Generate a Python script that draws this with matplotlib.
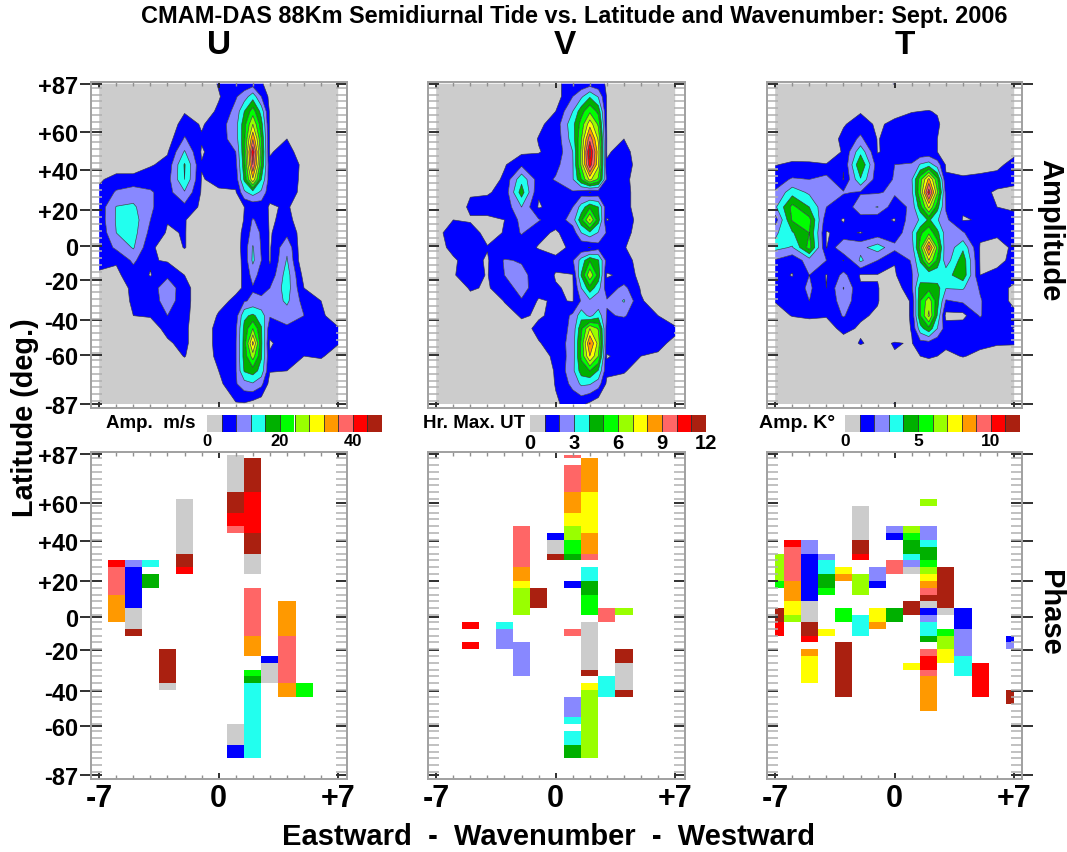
import numpy as np
import matplotlib
matplotlib.use("Agg")
import matplotlib.pyplot as plt

plt.rcParams['font.family'] = ['Liberation Sans', 'DejaVu Sans']
plt.rcParams['font.weight'] = 'bold'

W, H = 1067, 853
TITLE = "CMAM-DAS 88Km Semidiurnal Tide vs. Latitude and Wavenumber: Sept. 2006"
WAVENUMBERS = [-7, -6, -5, -4, -3, -2, -1, 0, 1, 2, 3, 4, 5, 6, 7]
WAVENUMBERS_FINE = [-7, -6, -5, -4, -3, -2, -1, 0, 1, 1.5, 2, 2.5, 3, 4, 5, 6, 7]
LATITUDES = [87, 80, 72, 65, 57, 50, 43, 35, 28, 20, 13, 6, -2, -9, -17, -24, -31, -39, -46, -54, -61, -69, -76, -87]
LAT_TICK_POS = [87, 60.7, 40, 18.2, -1.2, -19.4, -41.5, -60.3, -87]
LAT_TICK_LABELS = ['+87', '+60', '+40', '+20', '0', '-20', '-40', '-60', '-87']
LEVEL_COLORS = ['#CCCCCC', '#0000FF', '#8888FF', '#22FFEE', '#00B000', '#00FF00',
                '#99FF00', '#FFFF00', '#FF9900', '#FF6666', '#FF0000', '#AA2010']

# amplitude, in colour-bar steps (U steps are 4 m/s), rows follow LATITUDES
U_AMP = [
 [.2,.2,.2,.2,.2,.2,.2,1.1,1.3,1.5,.6,.2,.2,.2,.2],
 [.2,.2,.2,.2,.2,.2,.3,.9,1.9,3.6,.7,.2,.2,.2,.2],
 [.2,.2,.2,.2,.2,.9,.4,1.2,2.3,5.5,.8,.2,.2,.2,.2],
 [.2,.2,.2,.2,.2,1.5,.9,1.5,2.6,7,.85,.5,.2,.2,.2],
 [.2,.2,.2,.2,.5,2.1,1.1,1.5,2.5,8.9,.9,1.0,.3,.2,.2],
 [.2,.2,.2,.2,.9,3.1,.9,1.5,2.0,10.8,.9,1.4,.4,.2,.2],
 [.2,.2,.2,.9,1.3,4.1,1.05,1.5,1.7,10,1.2,1.5,.8,.2,.2],
 [.8,1.5,1.5,1.6,1.6,4.0,.95,1.2,1.4,7.8,1.4,1.4,.8,.2,.2],
 [1.3,2.1,2.4,2.1,1.6,2.9,.9,.9,.9,3.5,1.3,1.3,.8,.2,.2],
 [1.4,3.05,3.2,2.1,1.6,1.7,.8,.3,.5,1.2,.9,1.1,.5,.2,.2],
 [1.4,3.1,3.5,2.0,1.05,1.05,.5,.3,.5,2.1,.9,1.2,.6,.2,.2],
 [1.2,3.0,3.4,1.7,.9,1.05,.4,.3,.5,2.4,.9,1.7,.5,.2,.2],
 [1.2,2.2,3.1,1.2,.5,1.05,.4,.3,.5,3.1,.9,2.8,0,.2,.2],
 [1.2,1.1,2.2,1.1,.9,.4,.3,.3,.5,3.2,.9,3.1,0,.2,.2],
 [.9,.8,1.5,.95,1.8,1.0,.3,.3,.6,2.4,1.3,3.5,.6,.2,.2],
 [.4,.3,1.3,1.5,2.6,1.4,.3,.3,.8,1.9,2.0,3.5,1.0,.5,.2],
 [.3,.3,1.2,1.4,2.5,1.4,.3,.7,1.2,2.2,2.3,3.2,1.6,1.0,.4],
 [.2,.2,1.0,1.05,2.0,1.3,.3,1.1,1.5,4.2,2.1,2.5,2.0,1.1,.7],
 [.2,.2,.5,.7,1.2,1.2,.3,1.4,1.8,6,1.3,1.8,1.4,1.4,1.05],
 [.2,.2,.2,.2,.9,1.2,.3,1.4,1.9,8.3,.9,1.4,1.4,1.3,1.05],
 [.2,.2,.2,.2,.5,1.05,.3,1.3,1.9,6.5,1.1,1.3,1.0,1.1,.6],
 [.2,.2,.2,.2,.2,.4,.3,1.0,1.9,4.5,1.05,1.0,.6,.5,.2],
 [.2,.2,.2,.2,.2,.2,.2,.7,1.9,2.9,.6,.5,.2,.2,.2],
 [.2,.2,.2,.2,.2,.2,.2,.3,.9,.6,.2,.2,.2,.2,.2],
]
U_AMP_W15 = [1.4,2.5,4.0,4.6,4.7,4.8,4.6,4.2,2.8,1.0,1.05,1.3,1.4,1.3,1.2,1.1,1.9,3.8,4.3,4.4,4.4,4.1,2.6,.9]
U_AMP_W25 = [1.1,2.0,3.6,4.4,5.0,5.3,5.0,4.0,2.8,1.4,1.6,1.9,1.9,2.0,1.6,1.7,2.2,3.5,4.1,4.2,4.1,3.6,2.3,.3]
V_AMP = [
 [.3,.3,.3,.3,.3,.3,.3,.9,1.2,1.5,.9,.2,.2,.2,.2],
 [.3,.3,.3,.3,.3,.3,.3,.5,2.0,3.9,.9,.2,.2,.2,.2],
 [.3,.3,.3,.3,.3,.3,.4,1.0,3.0,5.8,.9,.2,.2,.2,.2],
 [.3,.3,.3,.3,.3,.3,.8,1.4,3.7,7.6,.9,.3,.2,.2,.2],
 [.3,.3,.3,.3,.3,.4,1.05,1.3,3.5,9.7,.95,1.0,.3,.2,.2],
 [.3,.3,.3,.3,.4,.8,.95,1.3,3.0,11.4,.9,1.3,.5,.2,.2],
 [.3,.3,.3,.3,.9,1.8,1.4,1.7,2.9,10.7,1.1,1.3,.7,.2,.2],
 [.3,.3,.3,.4,1.2,3.7,1.5,2.1,2.9,7.3,1.7,1.2,.6,.2,.2],
 [.3,.3,.9,.9,1.3,4.5,1.1,1.3,1.9,.95,1.3,1.2,.7,.2,.2],
 [.3,.3,1.2,1.4,1.3,3.0,.9,1.4,2.0,4.8,1.3,1.2,.7,.2,.2],
 [.3,1.0,.9,.8,1.0,2.3,2.1,1.3,2.5,7.1,.95,1.4,.7,.2,.2],
 [.8,1.3,1.4,.7,1.05,2.1,1.2,.9,1.4,3.8,1.9,1.3,.6,.2,.2],
 [.7,1.2,1.4,1.05,1.05,1.3,.95,.7,1.2,.95,1.3,1.05,.6,.2,.2],
 [.3,.9,1.3,.9,2.1,1.9,1.4,1.2,1.9,4.9,1.6,1.3,.7,.2,.2],
 [.3,.95,1.3,.95,2.0,2.3,1.5,.95,.95,6.8,.9,1.2,.9,.2,.2],
 [.3,.4,1.1,.9,1.5,2.4,1.4,1.05,.9,4.6,1.4,2.3,.9,.2,.2],
 [.3,.3,.7,.3,1.05,1.9,.9,1.1,.95,2.8,2.1,3.1,1.1,.5,.2],
 [.3,.3,.3,.3,.6,1.1,.9,1.2,2.2,2.7,1.9,2.1,1.4,1.0,.6],
 [.3,.3,.3,.3,.3,.7,1.2,1.3,2.3,7,1.5,1.3,1.3,1.1,1.1],
 [.3,.3,.3,.3,.3,.3,.95,1.3,2.5,9.1,1.3,1.25,1.3,1.1,.9],
 [.3,.3,.3,.3,.3,.3,.6,1.2,2.5,8,.95,1.2,1.0,.95,.2],
 [.3,.3,.3,.3,.3,.3,.3,1.1,2.7,5,1.2,1.1,.5,.3,.2],
 [.3,.3,.3,.3,.3,.3,.3,1.05,2.3,3.1,.8,.6,.2,.2,.2],
 [.3,.3,.3,.3,.3,.3,.3,.9,1.3,.8,.3,.2,.2,.2,.2],
]
V_AMP_W15 = [1.3,2.8,4.6,5.4,5.9,6.2,6.2,5.0,1.5,3.4,4.7,3.0,1.2,3.4,4.1,3.0,2.1,3.6,4.8,5.2,5.2,4.5,3.2,1.2]
V_AMP_W25 = [1.3,2.9,4.7,5.8,6.8,7.4,7.2,5.8,1.3,4.0,4.4,2.9,1.6,4.1,4.6,3.4,2.2,3.6,5.9,6.6,6.0,3.9,2.5,.3]
T_AMP = [
 [.3,.3,.3,.3,.3,.3,.6,1.05,.3,.3,.3,.3,.3,.3,.3],
 [.3,.3,.3,.3,.3,.3,.3,.3,.3,.3,.3,.3,.3,.3,.3],
 [.3,.3,.3,.3,.3,.9,.3,.6,.95,1.05,.3,.3,.3,.3,.3],
 [.3,.3,.3,.3,.9,1.5,.8,1.3,1.5,1.5,.5,.3,.3,.3,.3],
 [.3,.3,.3,.3,1.3,2.2,.95,1.4,1.5,1.2,.5,.3,.3,.3,.3],
 [.4,.4,.3,.4,1.1,3.7,.95,1.3,1.3,1.2,.7,.5,.5,.5,.8],
 [.95,1.2,1.2,1.05,1.05,5.0,1.4,2.0,2.1,3.5,.9,.7,.7,.8,1.3],
 [1.6,2.1,2.0,2.4,.95,3.9,1.3,2.1,2.9,8.3,1.1,1.1,1.2,1.3,1.2],
 [2.1,3.6,2.8,2.2,2.1,1.9,1.9,2.2,2.7,10.6,1.6,1.2,1.2,.9,.8],
 [2.8,5.3,4.0,2.0,1.3,2.6,3.05,1.3,2.3,7.2,1.9,1.1,1.1,1.0,.9],
 [1.5,5.1,5.3,1.3,.95,1.6,1.2,.95,2.6,4.2,2.2,.95,1.05,1.1,1.2],
 [2.8,3.9,5.0,.95,1.2,.95,1.4,1.3,2.9,5.7,2.5,2.1,1.1,1.05,1.1],
 [3.3,2.9,5.4,.95,3.0,2.7,3.5,2.3,2.5,9.6,2.2,3.8,.95,.9,1.05],
 [1.9,1.3,2.5,2.0,.95,3.2,2.0,1.05,2.1,7,2.4,4.6,.95,.9,1.1],
 [1.3,.95,2.0,.95,2.3,.9,.95,.9,1.9,3.1,3.6,4.7,1.0,1.1,1.2],
 [1.2,1.4,2.2,1.0,3.05,1.1,1.05,.4,1.8,4.6,3.05,3.1,1.9,1.2,.9],
 [1.05,1.05,2.0,1.1,2.6,1.3,1.05,.4,1.1,6.6,1.9,2.2,2.1,1.2,.9],
 [.6,1.05,1.1,1.05,2.1,1.1,.9,.4,1.1,7.2,.7,.7,2.1,1.1,1.1],
 [.3,.3,.7,.7,1.2,.9,.5,.4,1.05,4.7,1.5,1.6,1.3,1.3,2.1],
 [.3,.3,.3,.3,.7,1.05,.8,1.05,.95,1.6,1.2,1.2,1.2,1.1,1.1],
 [.3,.3,.3,.3,.3,.6,.5,.95,.8,1.1,.8,1.05,.8,.5,.3],
 [.3,.3,.3,.3,.3,.3,.3,1.0,.3,.5,.3,.3,.3,.3,.3],
 [.3,.3,.3,.3,.3,.3,.3,.3,.3,.3,.3,.3,.3,.3,.3],
 [.3,.3,.3,.3,.3,.3,.3,1.05,.3,.3,.3,.3,.3,.3,.3],
]
T_AMP_W15 = [.3,.3,1.0,1.5,1.35,1.2,3.1,5.6,5.9,4.6,3.1,4.8,5.4,4.1,3.3,4.5,5.0,5.0,3.6,1.6,1.0,.4,.3,.3]
T_AMP_W25 = [.3,.3,.9,1.2,1.0,1.0,2.5,5.2,6.1,4.4,3.1,4.3,5.7,4.7,3.3,4.4,4.4,3.9,3.0,1.3,1.0,.3,.3,.3]

# phase cells: (wavenumber, first row, last row, colour-bar step)
U_PHASE = [
 (-6,15,16,10),(-6,16,20,9),(-6,20,24,8),
 (-5,15,16,2),(-5,16,22,1),(-5,22,25,0),(-5,25,26,11),
 (-4,15,16,3),(-4,17,19,4),
 (-3,28,33,11),(-3,33,34,0),
 (-2,6,14,0),(-2,14,16,11),(-2,16,17,10),
 (1,-.5,5,0),(1,5,8,11),(1,8,10,10),(1,10,11,9),(1,39,42,0),(1,42,44,1),
 (2,0,5,11),(2,5,11,10),(2,11,14,11),(2,14,17,0),(2,19,26,9),(2,26,29,8),
 (2,31,32,5),(2,32,33,4),(2,33,44,3),
 (3,29,30,1),(3,30,33,0),
 (4,21,26,8),(4,26,33,9),(4,33,35,8),
 (5,33,35,5),
]
V_PHASE = [
 (-5,24,25,10),(-5,27,28,10),
 (-3,24,25,3),(-3,25,28,2),
 (-2,10,16,9),(-2,16,18,8),(-2,18,19,7),(-2,19,23,6),(-2,27,32,2),
 (-1,19,22,11),
 (0,11,12,1),(0,12,14,0),(0,14,15,11),
 (1,-.5,0,9),(1,1,5,9),(1,5,8,8),(1,8,10,7),(1,10,12,6),(1,12,14,5),(1,14,15,4),
 (1,18,19,1),(1,25,26,9),(1,35,38,2),(1,38,39,3),(1,40,42,3),(1,42,44,4),
 (2,0,5,8),(2,5,11,7),(2,11,14,8),(2,14,15,9),(2,16,18,3),(2,18,20,4),(2,20,23,5),
 (2,24,31,0),(2,31,32,11),(2,33,34,7),(2,34,44,6),
 (3,22,24,9),(3,32,35,3),
 (4,22,23,6),(4,28,30,11),(4,30,34,0),(4,34,35,11),
]
T_PHASE = [
 (-7,14,18,6),(-7,18,19,5),(-7,22,24,11),(-7,24,26,10),
 (-6,12,13,10),(-6,13,18,9),(-6,18,21,8),(-6,21,23,7),(-6,23,24,6),
 (-5,12,14,2),(-5,14,21,1),(-5,21,24,0),(-5,24,26,11),(-5,26,27,10),(-5,28,29,8),(-5,29,33,7),
 (-4,14,15,2),(-4,15,17,3),(-4,17,19,4),(-4,19,20,5),(-4,25,26,7),
 (-3,16,17,7),(-3,17,18,8),(-3,22,24,5),(-3,27,35,11),
 (-2,7,12,0),(-2,12,14,11),(-2,14,15,10),(-2,17,20,6),(-2,23,26,3),
 (-1,16,18,2),(-1,18,19,1),(-1,22,24,7),(-1,24,25,8),
 (0,10,11,2),(0,11,12,1),(0,15,17,9),(0,22,24,4),
 (1,10,11,6),(1,11,12,5),(1,12,14,4),(1,14,15,3),(1,15,16,2),(1,16,17,0),(1,21,23,11),(1,30,31,7),
 (2,6,7,6),(2,10,12,2),(2,12,13,3),(2,13,15,4),(2,15,16,5),(2,16,17,6),(2,17,18,7),
 (2,18,19,8),(2,19,20,9),(2,20,21,11),(2,21,22,0),(2,22,23,1),(2,23,24,2),(2,24,26,3),
 (2,26,27,4),(2,28,29,9),(2,29,31,10),(2,31,32,9),(2,32,37,8),
 (3,16,22,11),(3,22,23,0),(3,25,26,5),(3,26,28,6),(3,28,30,7),
 (4,22,25,1),(4,25,29,2),(4,29,32,3),
 (5,30,35,10),
 (7,26,27,1),(7,27,28,2),(7,34,36,11),
]

PANEL_NAMES = ['U', 'V', 'T']
FRAME_X = [(91, 347), (428, 685), (767, 1022)]
PANEL_HEAD_X = [219, 565, 905]
CBAR_X = [(207, 382), (530, 706), (845, 1020)]
CBAR_TITLES = ['Amp.  m/s', 'Hr. Max. UT', 'Amp. K°']
CBAR_TITLE_X = [196, 525, 835]
CBAR_TITLE_SIZE = [13.5, 13.5, 14]
CBAR_TICK_STEPS = [[0, 5, 10], [0, 3, 6, 9, 12], [0, 5, 10]]
CBAR_TICK_LABELS = [['0', '20', '40'], ['0', '3', '6', '9', '12'], ['0', '5', '10']]
CBAR_TICK_SIZE = [12, 14.5, 12.5]
X_TICK_VALUES = [-7, 0, 7]
X_TICK_LABELS = ['-7', '0', '+7']


def rect_axes(fig, x0, x1, y0, y1):
    return fig.add_axes([x0 / W, 1 - y1 / H, (x1 - x0) / W, (y1 - y0) / H])


def row_edge(n):
    return 84.8 - 3.7 * n


def style(ax, col, bottom_labels, y0, y1, lat_top, lat_bot):
    x0, x1 = FRAME_X[col]
    per_unit = 17.07
    ax.set_xlim(-7 - 8.2 / per_unit, 7 + (x1 - x0 - 8.2 - 14 * per_unit) / per_unit)
    scale = (lat_bot - lat_top) / 174.0
    ax.set_ylim(-87 - (y1 - lat_bot) / scale, 87 + (lat_top - y0) / scale)
    for s in ax.spines.values():
        s.set_color('#a0a0a0')
        s.set_linewidth(1.4)
    ax.set_xticks(X_TICK_VALUES)
    ax.set_xticks(WAVENUMBERS, minor=True)
    ax.set_yticks(LAT_TICK_POS)
    ax.set_yticks([row_edge(n) for n in range(47)], minor=True)
    ax.tick_params(axis='y', which='minor', direction='in', left=True, right=True, length=8, width=1.1, color='#b0b0b0')
    ax.tick_params(axis='y', which='major', direction='in', left=True, right=True, length=8, width=1.4, color='#303030', labelleft=False)
    ax.tick_params(axis='x', which='minor', direction='in', top=True, bottom=True, length=3, width=1, color='#909090')
    ax.tick_params(axis='x', which='major', direction='in', top=True, bottom=True, length=4, width=1.3, color='#202020', labelsize=22, pad=3)
    if bottom_labels:
        ax.set_xticklabels(X_TICK_LABELS)
    else:
        ax.set_xticklabels([])
    if col == 0:
        sec = ax.secondary_yaxis('left')
        sec.set_yticks(LAT_TICK_POS)
        sec.set_yticklabels(LAT_TICK_LABELS, fontsize=17)
        sec.tick_params(axis='y', direction='out', length=8, width=1.4, color='#303030', pad=1)
        sec.spines['left'].set_visible(False)
    if col == 2:
        sec = ax.secondary_yaxis('right')
        sec.set_yticks(LAT_TICK_POS)
        sec.set_yticklabels([])
        sec.tick_params(axis='y', direction='out', length=8, width=1.4, color='#303030')
        sec.spines['right'].set_visible(False)


fig = plt.figure(figsize=(W / 100, H / 100), dpi=100, facecolor='white')

amps = [U_AMP, V_AMP, T_AMP]
fine_w15 = [U_AMP_W15, V_AMP_W15, T_AMP_W15]
fine_w25 = [U_AMP_W25, V_AMP_W25, T_AMP_W25]
phases = [U_PHASE, V_PHASE, T_PHASE]
levels = list(range(13))
for col in range(3):
    x0, x1 = FRAME_X[col]
    ax = rect_axes(fig, x0, x1, 83, 409)
    base = np.array(amps[col], dtype=float)
    z = np.column_stack([base[:, :9], fine_w15[col], base[:, 9], fine_w25[col], base[:, 10:]])
    ax.contourf(WAVENUMBERS_FINE, LATITUDES, z, levels=levels, colors=LEVEL_COLORS, antialiased=True)
    ax.contour(WAVENUMBERS_FINE, LATITUDES, z, levels=levels[1:-1], colors='#303040', linewidths=0.45)
    style(ax, col, False, 83, 409, 84.7, 405)

    ax2 = rect_axes(fig, x0, x1, 452.7, 780)
    for w, r0, r1, lev in phases[col]:
        left = max(w - 0.5, WAVENUMBERS[0])
        right = min(w + 0.5, WAVENUMBERS[-1])
        ax2.bar(left, row_edge(r0) - row_edge(r1), width=right - left, bottom=row_edge(r1),
                align='edge', color=LEVEL_COLORS[lev], linewidth=0)
    style(ax2, col, True, 452.7, 780, 455, 776)

    # colour bar
    bx0, bx1 = CBAR_X[col]
    cax = rect_axes(fig, bx0, bx1, 416, 432.7)
    for k, c in enumerate(LEVEL_COLORS):
        cax.bar(k, 1, width=1, align='edge', color=c, linewidth=0)
        if k > 0:
            cax.axvline(k, color='#303030', lw=0.6)
    cax.set_xlim(0, 12)
    cax.set_ylim(0, 1)
    cax.set_yticks([])
    cax.set_xticks(CBAR_TICK_STEPS[col])
    cax.set_xticklabels(CBAR_TICK_LABELS[col], fontsize=CBAR_TICK_SIZE[col])
    cax.tick_params(axis='x', length=0, pad=1)
    for s in cax.spines.values():
        s.set_visible(False)
    fig.text(CBAR_TITLE_X[col] / W, 1 - 424 / H, CBAR_TITLES[col], ha='right', va='center',
             fontsize=CBAR_TITLE_SIZE[col])
    fig.text(PANEL_HEAD_X[col] / W, 1 - 45 / H, PANEL_NAMES[col], ha='center', va='center', fontsize=24)

fig.text(574 / W, 1 - 17 / H, TITLE, ha='center', va='center', fontsize=16.9)
fig.text(25 / W, 1 - 418 / H, 'Latitude (deg.)', rotation=90, ha='center', va='center', fontsize=20.8)
fig.text(1050 / W, 1 - 230 / H, 'Amplitude', rotation=-90, ha='center', va='center', fontsize=21)
fig.text(1050 / W, 1 - 613 / H, 'Phase', rotation=-90, ha='center', va='center', fontsize=21)
fig.text(549 / W, 1 - 837 / H, 'Eastward  -  Wavenumber  -  Westward', ha='center', va='center', fontsize=21)

fig.savefig('out.png', dpi=100)
